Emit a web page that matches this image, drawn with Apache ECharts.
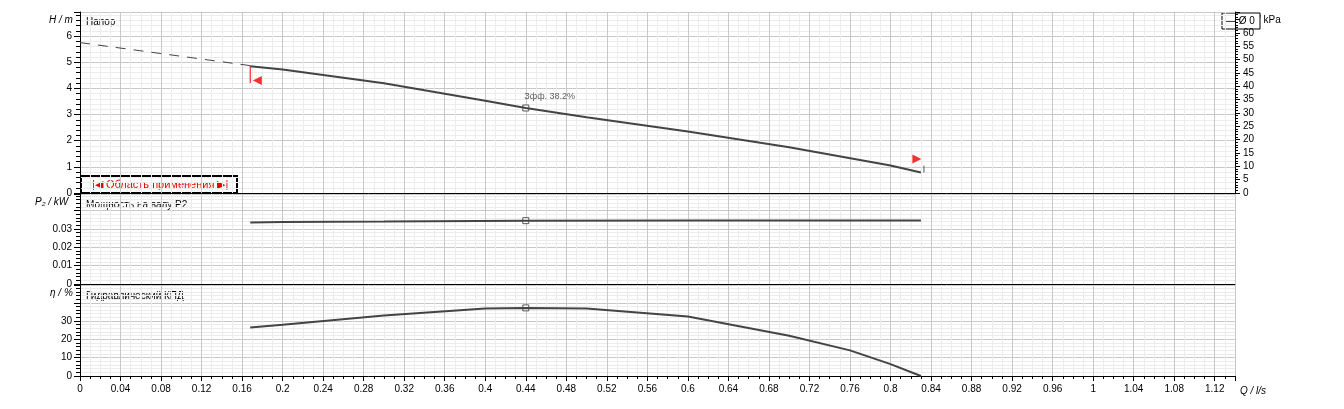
<!DOCTYPE html><html><head><meta charset="utf-8"><script src="https://cdn.jsdelivr.net/npm/echarts@6/dist/echarts.min.js"></script>
<style>html,body{margin:0;background:#fff}#c{width:1344px;height:409px}</style></head><body><div id="c"></div><script>
const headDashed=[[0,5.75],[0.168,4.87]];
const headCurve=[[0.168,4.85],[0.2,4.72],[0.3,4.2],[0.4,3.53],[0.44,3.25],[0.5,2.9],[0.6,2.35],[0.7,1.75],[0.8,1.05],[0.83,0.78]];
const powerCurve=[[0.168,0.0335],[0.2,0.0337],[0.3,0.034],[0.44,0.0345],[0.6,0.0346],[0.83,0.0346]];
const effCurve=[[0.168,26.5],[0.2,28],[0.3,33],[0.4,36.8],[0.44,37.2],[0.5,36.8],[0.6,32.5],[0.7,22],[0.76,14],[0.8,6.5],[0.83,0]];
const bep=[0.44,3.25],bepP=[0.44,0.0345],bepE=[0.44,37.2];
const f='Liberation Sans';
const ch=echarts.init(document.getElementById('c'));
const grids=[{left:80,right:109,top:12,height:181},{left:80,right:109,top:194,height:90},{left:80,right:109,top:285,height:91}];
const gl={lineStyle:{color:'#c8c8c8'}},ml={show:true,lineStyle:{color:'#ececec'}};
function xa(i){return {gridIndex:i,type:'value',min:0,max:1.14,interval:0.04,minorTick:{show:i==2,splitNumber:4,length:3},splitLine:gl,minorSplitLine:ml,
 axisLine:{onZero:false,lineStyle:{color:'#000'}},axisTick:{show:i==2,length:5,lineStyle:{color:'#000'}},
 axisLabel:{show:i==2,fontFamily:f,fontSize:10,color:'#000',showMaxLabel:false,formatter:v=>+v.toFixed(2)+''}};}
function ya(i,max,iv,split,fmt){return {gridIndex:i,type:'value',min:0,max:max,interval:iv,minorTick:{show:true,splitNumber:split,length:4},splitLine:gl,minorSplitLine:ml,
 axisLine:{show:true,lineStyle:{color:'#000'}},axisTick:{length:6,lineStyle:{color:'#000'}},axisLabel:{fontFamily:f,fontSize:10,color:'#000',showMaxLabel:false,formatter:fmt}};}
const line={type:'line',symbol:'none',lineStyle:{color:'#444',width:2},silent:true};
function T(x,y,t,o){return Object.assign({type:'text',x:x,y:y,silent:true,style:{text:t,fontSize:10,fontFamily:f,fill:'#000'}},o||{});}
ch.setOption({animation:false,grid:grids,
xAxis:[xa(0),xa(1),xa(2)],
yAxis:[ya(0,6.92,1,5),ya(1,0.049,0.01,5,v=>v==0?'0':(v>0.035?'':v.toFixed(2))),ya(2,49.7,10,5,v=>v>35?'':v+''),
 {gridIndex:0,type:'value',position:'right',min:0,max:67.9,interval:5,minorTick:{show:true,splitNumber:5,length:3},splitLine:{show:false},
  axisLine:{show:true,lineStyle:{color:'#000'}},axisTick:{length:5,lineStyle:{color:'#000'}},axisLabel:{fontFamily:f,fontSize:10,color:'#000',showMaxLabel:false,formatter:v=>v>62?'':v+''}}],
series:[
 Object.assign({},line,{xAxisIndex:0,yAxisIndex:0,data:headDashed,lineStyle:{color:'#444',width:1,type:[10,8]}}),
 Object.assign({},line,{xAxisIndex:0,yAxisIndex:0,data:headCurve}),
 Object.assign({},line,{xAxisIndex:1,yAxisIndex:1,data:powerCurve}),
 Object.assign({},line,{xAxisIndex:2,yAxisIndex:2,data:effCurve}),
 {type:'scatter',xAxisIndex:0,yAxisIndex:0,data:[bep],symbol:'rect',symbolSize:6,itemStyle:{color:'#fff',borderColor:'#333',borderWidth:1},
  label:{show:true,position:[2,-12],formatter:'Зфф. 38.2%',fontFamily:f,fontSize:9,color:'#333'}},
 {type:'scatter',xAxisIndex:1,yAxisIndex:1,data:[bepP],symbol:'rect',symbolSize:6,itemStyle:{color:'#fff',borderColor:'#333',borderWidth:1}},
 {type:'scatter',xAxisIndex:2,yAxisIndex:2,data:[bepE],symbol:'rect',symbolSize:6,itemStyle:{color:'#fff',borderColor:'#333',borderWidth:1}},
 {type:'scatter',xAxisIndex:0,yAxisIndex:0,data:[[0.175,4.3]],symbol:'triangle',symbolRotate:90,symbolSize:9,itemStyle:{color:'#e00'}},
 {type:'scatter',xAxisIndex:0,yAxisIndex:0,data:[[0.826,1.3]],symbol:'triangle',symbolRotate:-90,symbolSize:9,itemStyle:{color:'#e00'}},
 {type:'line',xAxisIndex:0,yAxisIndex:0,data:[[0.168,4.85],[0.168,4.2]],symbol:'none',lineStyle:{color:'#e00',width:1}},
 {type:'line',xAxisIndex:0,yAxisIndex:0,data:[[0.833,0.78],[0.833,1.05]],symbol:'none',lineStyle:{color:'#555',width:1}}
],
graphic:[
 T(86,17,'Напор'),T(86,200,'Мощность на валу P2'),T(86,291,'Гидравлический КПД'),
 T(49,15,'H / m',{style:{text:'H / m',fontSize:10,fontFamily:f,fill:'#000',fontStyle:'italic'}}),
 T(35,197,'P₂ / kW',{style:{text:'P₂ / kW',fontSize:10,fontFamily:f,fill:'#000',fontStyle:'italic'}}),
 T(50,288,'η / %',{style:{text:'η / %',fontSize:10,fontFamily:f,fill:'#000',fontStyle:'italic'}}),
 T(1240,386,'Q / l/s',{style:{text:'Q / l/s',fontSize:10,fontFamily:f,fill:'#000',fontStyle:'italic'}}),
 T(1243,15,'Δp / kPa'),
 {type:'rect',silent:true,shape:{x:1222,y:13,width:38,height:16},style:{fill:'#fff',stroke:'#000',lineWidth:1}},
 T(1226,16,'— Ø 0'),
 {type:'rect',silent:true,shape:{x:81,y:176,width:156,height:17},style:{fill:'#fff',stroke:'#000',lineWidth:2}},
 T(92,179,'|◀ Область применения ▶|',{style:{text:'|◀ Область применения ▶|',fontSize:11,fontFamily:f,fill:'#e00'}})
]});
</script></body></html>
